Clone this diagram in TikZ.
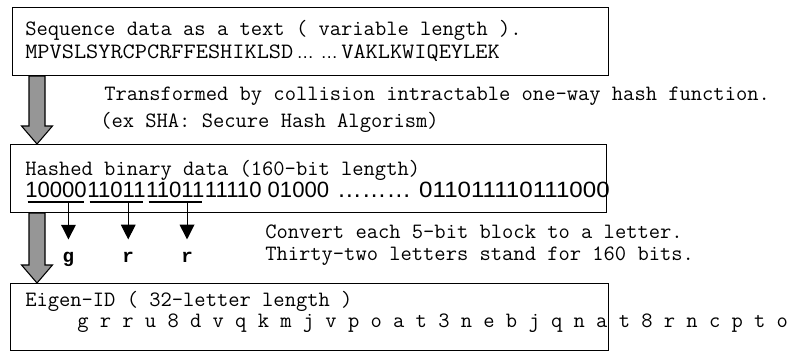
\documentclass[tikz,border=0pt]{standalone}
\usepackage{fontspec}
\setmainfont{Liberation Serif}
\newfontfamily\digitfont{Liberation Sans}
\newfontfamily\boldmono{Liberation Mono}
\usetikzlibrary{arrows.meta,calc}
\definecolor{arrowgray}{RGB}{150,150,150}
\newcommand\ellip{\makebox[18pt]{\digitfont\fontsize{13}{15}\selectfont…}}
\begin{document}
\begin{tikzpicture}[x=0.75pt,y=-0.75pt,
  box/.style={draw=black,line width=0.8pt,inner sep=0pt,anchor=north west},
  txt/.style={anchor=base west,inner sep=0pt,font=\fontsize{16.43}{19}\selectfont\ttfamily},
  dig/.style={anchor=base west,inner sep=0pt,font=\fontsize{16.6}{19}\selectfont\digitfont},
  lett/.style={anchor=base,inner sep=0pt,font=\fontsize{14.4}{17}\selectfont\boldmono\bfseries},
  uline/.style={line width=0.9pt},
  sarr/.style={line width=0.8pt,-{Triangle[width=11pt,length=11pt]}},
  fatarr/.style={draw=black,line width=0.8pt,fill=arrowgray,line join=miter}]
\fill[white] (0,0) rectangle (806,351);
\useasboundingbox (0,0) rectangle (806,351);
% boxes
\node[box,minimum width=447pt,minimum height=51pt] (b1) at (12,7) {};
\node[box,minimum width=447pt,minimum height=51pt] (b2) at (10,144) {};
\node[box,minimum width=448.5pt,minimum height=50.25pt] (b3) at (10,283) {};
% fat arrows
\coordinate (a1s) at (37,0 |- b1.south);
\coordinate (a1e) at (37,0 |- b2.north);
\coordinate (a2s) at (37,0 |- b2.south);
\coordinate (a2e) at (37,0 |- b3.north);
\foreach \s/\e in {a1s/a1e,a2s/a2e}{
  \draw[fatarr] ([xshift=-6pt]\s) -- ([xshift=6pt]\s) -- ([shift={(6pt,13.5pt)}]\e)
    -- ([shift={(11.6pt,13.5pt)}]\e) -- (\e) -- ([shift={(-11.6pt,13.5pt)}]\e)
    -- ([shift={(-6pt,13.5pt)}]\e) -- cycle;
}
% texts
\node[txt] (t1a) at (25,35) {Sequence data as a text ( variable length ).};
\node[txt] (t1b) at (25,58) {\scalebox{1.08}[1]{MPVSLSYRCPCRFFESHIKLSD}\ellip\ellip\scalebox{1.08}[1]{VAKLKWIQEYLEK}};
\node[txt] (tr1) at (104,100) {Transformed by collision intractable one-way hash function.};
\node[txt] (tr2) at (100,127) {(ex SHA: Secure Hash Algorism)};
\node[txt] (t2a) at (25,175) {Hashed binary data (160-bit length)};
\node[dig] (d1) at (25,197) {10000};
\node[dig] (d2) at (d1.base east) {11011};
\node[dig] (d3) at (d2.base east) {11011};
\node[dig] (d4) at (d3.base east) {11110 01000};
\node[dig,anchor=base east] (d5) at (610,197) {\scalebox{1.09}[1]{011011110111000}};
\node[dig,anchor=base,font=\fontsize{18.5}{20}\selectfont\digitfont] (dots) at ($(d4.base east)!0.5!(d5.base west)$) {………};
\foreach \d in {d1,d2,d3}{
  \draw[uline] ([shift={(2pt,-3.75pt)}]\d.base west) -- ([shift={(-2pt,-3.75pt)}]\d.base east);
}
\coordinate (s1) at ($(d1.base west)!0.7!(d1.base east)+(0,-3.75pt)$);
\coordinate (s2) at ($(d2.base west)!0.7!(d2.base east)+(0,-3.75pt)$);
\coordinate (s3) at ($(d3.base west)!0.7!(d3.base east)+(0,-3.75pt)$);
\node[lett] (lg) at (s1 |- 0,262) {g};
\node[lett] (lr1) at (s2 |- 0,262) {r};
\node[lett] (lr2) at (s3 |- 0,262) {r};
\draw[sarr] (s1) -- ([yshift=9pt]lg.north);
\draw[sarr] (s2) -- ([yshift=9pt]lr1.north);
\draw[sarr] (s3) -- ([yshift=9pt]lr2.north);
\node[txt] (c1) at (265,238) {Convert each 5-bit block to a letter.};
\node[txt] (c2) at (265,260) {Thirty-two letters stand for 160 bits.};
\node[txt] (t3a) at (25,306) {Eigen-ID ( 32-letter length )};
\node[txt] (t3b) at (77,327) {g r r u 8 d v q k m j v p o a t 3 n e b j q n a t 8 r n c p t o};
\end{tikzpicture}
\end{document}
